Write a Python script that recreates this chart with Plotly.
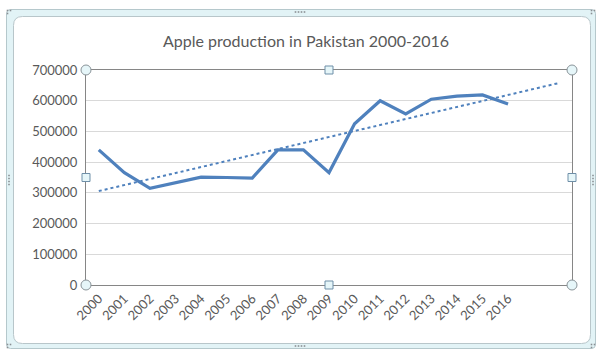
import numpy as np
import plotly.graph_objects as go

years = list(range(2000, 2017))
production = [440000, 366000, 315000, 333000, 351000, 350000, 348000, 440000, 440000,
              366000, 525000, 600000, 557000, 605000, 615000, 619000, 589000]
y_ticks = [0, 100000, 200000, 300000, 400000, 500000, 600000, 700000]
x_tick_labels = [str(y) for y in years]
forecast_periods = 2

# Linear trendline (forecast forward 2 periods)
coef = np.polyfit(years, production, 1)
trend_x = [years[0], years[-1] + forecast_periods]
trend_y = [float(np.polyval(coef, v)) for v in trend_x]

W, H = 612, 359
L, R, T, B = 86, 572, 70, 285
pw, ph = R - L, B - T

def px(x):
    return (x - L) / pw

def py(y):
    return (B - y) / ph

fig = go.Figure()
fig.add_trace(go.Scatter(x=years, y=production, mode="lines",
                         line=dict(color="#4f81bd", width=3.2), showlegend=False,
                         hoverinfo="skip"))
fig.add_trace(go.Scatter(x=trend_x, y=trend_y, mode="lines",
                         line=dict(color="#4f81bd", width=2, dash="dot"), showlegend=False,
                         hoverinfo="skip"))

shapes = []

def rounded_path(x0, y0, x1, y1, r):
    pts = [
        f"M {px(x0 + r)},{py(y0)}",
        f"L {px(x1 - r)},{py(y0)}",
        f"Q {px(x1)},{py(y0)} {px(x1)},{py(y0 + r)}",
        f"L {px(x1)},{py(y1 - r)}",
        f"Q {px(x1)},{py(y1)} {px(x1 - r)},{py(y1)}",
        f"L {px(x0 + r)},{py(y1)}",
        f"Q {px(x0)},{py(y1)} {px(x0)},{py(y1 - r)}",
        f"L {px(x0)},{py(y0 + r)}",
        f"Q {px(x0)},{py(y0)} {px(x0 + r)},{py(y0)}",
        "Z",
    ]
    return " ".join(pts)

# outer selection frame
shapes.append(dict(type="path", xref="paper", yref="paper", layer="below",
                   path=rounded_path(6.5, 9.5, 595.5, 348.5, 4),
                   fillcolor="#e2f3f6", line=dict(color="#b5c8cc", width=1)))
shapes.append(dict(type="path", xref="paper", yref="paper", layer="below",
                   path=rounded_path(13.5, 16.5, 590.5, 343.5, 9),
                   fillcolor="#ffffff", line=dict(color="#b8c6ca", width=1)))

# grip dots on frame
def dot(x, y):
    shapes.append(dict(type="rect", xref="paper", yref="paper",
                       x0=px(x - 0.8), x1=px(x + 0.8), y0=py(y - 0.8), y1=py(y + 0.8),
                       fillcolor="#8a8f94", line=dict(width=0)))

def dots(cx, cy, horizontal=True, n=4):
    for i in range(n):
        d = (i - (n - 1) / 2) * 3
        dot(cx + (d if horizontal else 0), cy + (0 if horizontal else d))

dots(300, 12, True)
dots(300, 346, True)
dots(9, 180, False)
dots(593, 180, False)
for (cx, cy) in [(9, 12), (593, 12), (9, 346), (593, 346)]:
    for (ddx, ddy) in [(-1.5, -1.5), (1.5, -1.5), (-1.5, 1.5)]:
        dot(cx + ddx, cy + ddy)

# plot-area selection handles
for (hx, hy) in [(0, 0), (1, 0), (0, 1), (1, 1)]:
    shapes.append(dict(type="circle", xref="paper", yref="paper",
                       xsizemode="pixel", ysizemode="pixel", xanchor=hx, yanchor=hy,
                       x0=-5, x1=5, y0=-5, y1=5,
                       fillcolor="#e6f6f9", line=dict(color="#8a9499", width=1)))
for (hx, hy) in [(0.5, 0), (0.5, 1), (0, 0.5), (1, 0.5)]:
    shapes.append(dict(type="rect", xref="paper", yref="paper",
                       xsizemode="pixel", ysizemode="pixel", xanchor=hx, yanchor=hy,
                       x0=-4, x1=4, y0=-4, y1=4,
                       fillcolor="#e6f6f9", line=dict(color="#6f8fa8", width=1)))

fig.update_layout(
    width=W, height=H,
    margin=dict(l=L, r=W - R, t=T, b=H - B, pad=0),
    paper_bgcolor="#ffffff", plot_bgcolor="#ffffff",
    font=dict(family="Lato, Liberation Sans, sans-serif", color="#595959", size=13),
    title=dict(text="Apple production in Pakistan 2000-2016", x=0.5, xanchor="center",
               y=1 - 41 / H, yanchor="middle",
               font=dict(family="Lato, Liberation Sans, sans-serif", size=16, color="#595959")),
    shapes=shapes,
    xaxis=dict(range=[years[0] - 0.5, years[-1] + forecast_periods + 0.5],
               tickvals=years, ticktext=x_tick_labels, tickangle=-45,
               showgrid=False, zeroline=False, showline=True, linecolor="#868686",
               linewidth=1, mirror=True, ticks="", tickfont=dict(size=13, color="#595959"),
               fixedrange=True),
    yaxis=dict(range=[0, 700000], tickvals=y_ticks, tickformat="d",
               showgrid=True, gridcolor="#d9d9d9", gridwidth=1, zeroline=False,
               showline=True, linecolor="#868686", linewidth=1, mirror=True,
               ticks="outside", ticklen=5, tickcolor="rgba(0,0,0,0)",
               tickfont=dict(size=13, color="#595959"), fixedrange=True),
)

fig.write_html("out.html", config={"displayModeBar": False},
               post_script="document.body.style.margin='0';document.body.style.overflow='hidden';")
